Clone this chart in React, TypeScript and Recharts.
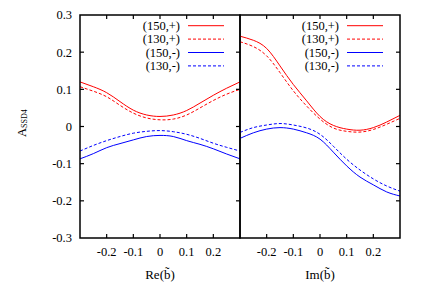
import { LineChart, Line, XAxis, YAxis } from "recharts";

const bValues = [-0.3, -0.25, -0.2, -0.15, -0.1, -0.05, 0, 0.05, 0.1, 0.15, 0.2, 0.25, 0.3];

// Re(b) panel
const re150p = [0.12, 0.107, 0.091, 0.067, 0.044, 0.031, 0.027, 0.031, 0.043, 0.063, 0.084, 0.103, 0.12];
const re130p = [0.107, 0.095, 0.08, 0.057, 0.036, 0.023, 0.018, 0.02, 0.031, 0.05, 0.07, 0.087, 0.1];
const re150m = [-0.087, -0.073, -0.057, -0.046, -0.036, -0.027, -0.024, -0.027, -0.038, -0.048, -0.06, -0.074, -0.087];
const re130m = [-0.066, -0.051, -0.038, -0.027, -0.018, -0.013, -0.011, -0.014, -0.021, -0.032, -0.045, -0.056, -0.066];

// Im(b) panel
const im150p = [0.243, 0.232, 0.21, 0.163, 0.113, 0.069, 0.027, 0.003, -0.007, -0.01, -0.003, 0.012, 0.03];
const im130p = [0.228, 0.215, 0.19, 0.145, 0.096, 0.055, 0.02, -0.004, -0.013, -0.015, -0.008, 0.006, 0.022];
const im150m = [-0.032, -0.017, -0.007, -0.003, -0.007, -0.017, -0.034, -0.069, -0.106, -0.136, -0.157, -0.176, -0.187];
const im130m = [-0.016, -0.003, 0.004, 0.008, 0.004, -0.004, -0.021, -0.053, -0.088, -0.117, -0.141, -0.16, -0.174];

const xTicks = [-0.2, -0.1, 0, 0.1, 0.2];
const yTicks = [-0.3, -0.2, -0.1, 0, 0.1, 0.2, 0.3];
const innerYTicks = [-0.2, -0.1, 0, 0.1, 0.2];
const seriesNames = ["(150,+)", "(130,+)", "(150,-)", "(130,-)"];
const seriesColors = ["#ff0000", "#ff0000", "#0000ff", "#0000ff"];
const seriesDash = [undefined, "3 2", undefined, "3 2"];

const FONT = "'Liberation Serif', 'DejaVu Serif', serif";
const LO = -0.3;
const HI = 0.3;
const TOP = 15;
const PLOT_H = 223;
const PLOT_W = 160;

const reData = bValues.map((b, i) => ({ b, p150: re150p[i], p130: re130p[i], m150: re150m[i], m130: re130m[i] }));
const imData = bValues.map((b, i) => ({ b, p150: im150p[i], p130: im130p[i], m150: im150m[i], m130: im130m[i] }));

const fmt = (v: number) => (Math.abs(v) < 1e-9 ? "0" : v.toFixed(1));
const tickStyle = { fontSize: 12.5, fill: "black", fontFamily: FONT };

function KeyBox() {
  return (
    <svg width={140} height={58} style={{ display: "block" }}>
      {seriesNames.map((name, i) => {
        const y = 7.7 + i * 13.4;
        return (
          <g key={name}>
            <text x={90} y={y} dy="0.35em" textAnchor="end" fontSize={12.5} fontFamily={FONT} fill="black">
              {name}
            </text>
            <line x1={98} x2={134} y1={y} y2={y} stroke={seriesColors[i]} strokeWidth={1} strokeDasharray={seriesDash[i]} />
          </g>
        );
      })}
    </svg>
  );
}

// box with inward gnuplot-style ticks around the plot area
function Frame({ x0, width, leftTicks }: any) {
  const x1 = x0 + PLOT_W;
  const y0 = TOP;
  const y1 = TOP + PLOT_H;
  const px = (v: number) => x0 + ((v - LO) / (HI - LO)) * PLOT_W;
  const py = (v: number) => y1 - ((v - LO) / (HI - LO)) * PLOT_H;
  return (
    <svg width={width} height={305} style={{ position: "absolute", top: 0, left: 0, pointerEvents: "none" }}>
      <rect x={x0} y={y0} width={PLOT_W} height={PLOT_H} fill="none" stroke="black" strokeWidth={1.5} />
      {xTicks.map((t) => (
        <g key={"x" + t}>
          <line x1={px(t)} x2={px(t)} y1={y1} y2={y1 - 4} stroke="black" strokeWidth={1.2} />
          <line x1={px(t)} x2={px(t)} y1={y0} y2={y0 + 4} stroke="black" strokeWidth={1.2} />
        </g>
      ))}
      {innerYTicks.map((t) => (
        <g key={"y" + t}>
          {leftTicks ? <line x1={x0} x2={x0 + 4} y1={py(t)} y2={py(t)} stroke="black" strokeWidth={1.2} /> : null}
          <line x1={x1} x2={x1 - 4} y1={py(t)} y2={py(t)} stroke="black" strokeWidth={1.2} />
        </g>
      ))}
    </svg>
  );
}

function Panel({ data, label, left, width, plotLeft, showY, legendLeft }: any) {
  const marginRight = width - plotLeft - PLOT_W;
  return (
    <div style={{ position: "absolute", top: 0, left, width, height: 305 }}>
      <LineChart width={width} height={305} data={data} margin={{ top: TOP, right: marginRight, left: showY ? 0 : plotLeft, bottom: 0 }}>
        <XAxis
          dataKey="b"
          type="number"
          domain={[LO, HI]}
          allowDataOverflow
          ticks={xTicks}
          interval={0}
          tickFormatter={fmt}
          height={305 - TOP - PLOT_H}
          axisLine={false}
          tickLine={false}
          tickSize={0}
          tickMargin={9}
          tick={tickStyle}
          label={{ value: label, position: "insideBottom", offset: 26, fontSize: 13, fill: "black", fontFamily: FONT }}
        />
        {showY ? (
          <YAxis
            type="number"
            domain={[LO, HI]}
            allowDataOverflow
            ticks={yTicks}
            interval={0}
            tickFormatter={fmt}
            width={plotLeft}
            axisLine={false}
            tickLine={false}
            tickSize={0}
            tickMargin={8}
            tick={tickStyle}
            label={{
              content: () => (
                <text transform="translate(25.5 137) rotate(-90)" fontFamily={FONT} fill="black">
                  <tspan fontSize={12.5}>A</tspan>
                  <tspan fontSize={8} dy={1.5}>SSD4</tspan>
                </text>
              ),
            }}
          />
        ) : (
          <YAxis type="number" domain={[LO, HI]} allowDataOverflow hide />
        )}
        <Line type="natural" dataKey="p150" name={seriesNames[0]} stroke={seriesColors[0]} strokeWidth={1} dot={false} isAnimationActive={false} />
        <Line type="natural" dataKey="p130" name={seriesNames[1]} stroke={seriesColors[1]} strokeWidth={1} strokeDasharray={seriesDash[1]} dot={false} isAnimationActive={false} />
        <Line type="natural" dataKey="m150" name={seriesNames[2]} stroke={seriesColors[2]} strokeWidth={1} dot={false} isAnimationActive={false} />
        <Line type="natural" dataKey="m130" name={seriesNames[3]} stroke={seriesColors[3]} strokeWidth={1} strokeDasharray={seriesDash[3]} dot={false} isAnimationActive={false} />
      </LineChart>
      <Frame x0={plotLeft} width={width} leftTicks={showY} />
      <div style={{ position: "absolute", top: 18, left: legendLeft }}>
        <KeyBox />
      </div>
    </div>
  );
}

export default function App() {
  return (
    <div style={{ position: "absolute", top: 0, left: 0, width: 436, height: 305, background: "#fff" }}>
      <Panel data={reData} label="Re(b̃)" left={0} width={242} plotLeft={80} showY legendLeft={90} />
      <Panel data={imData} label="Im(b̃)" left={239} width={172} plotLeft={1} showY={false} legendLeft={10.3} />
    </div>
  );
}
